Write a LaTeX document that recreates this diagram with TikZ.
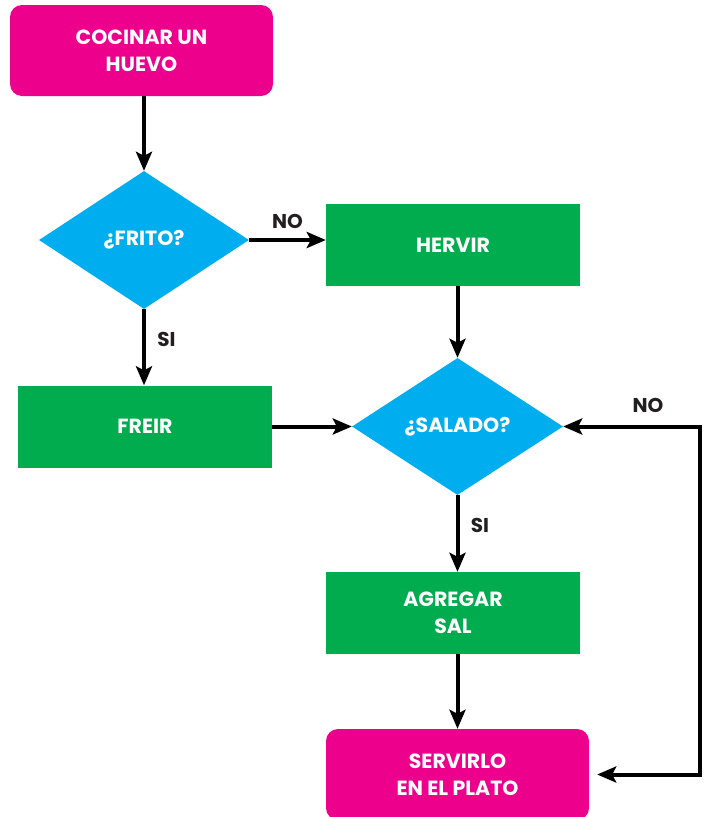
\documentclass[tikz,border=0pt]{standalone}
\usepackage{fontspec}
\setmainfont{Poppins}
\usetikzlibrary{shapes.geometric,arrows.meta}

\definecolor{fpink}{HTML}{EC008C}
\definecolor{fgreen}{HTML}{00AC4E}
\definecolor{fblue}{HTML}{00AEEF}
\definecolor{ftext}{HTML}{231F20}

\tikzset{
  txt/.style={font=\fontsize{20.5}{27}\selectfont\bfseries, text=white, align=center},
  endbox/.style={txt, fill=fpink, rounded corners=12pt, inner sep=0pt,
    minimum width=263pt, minimum height=91pt},
  actbox/.style={txt, fill=fgreen, inner sep=0pt,
    minimum width=254pt, minimum height=82pt},
  askbox/.style={txt, fill=fblue, diamond, inner sep=0pt, aspect=1.5},
  arr/.style={line width=4pt, draw=black, -{Stealth[length=19pt,width=16pt,inset=4pt]}},
  lbl/.style={font=\fontsize{20}{22}\selectfont\bfseries, text=ftext}
}

\begin{document}
\begin{tikzpicture}[x=1pt,y=-1pt]
  \useasboundingbox (0,0) rectangle (707,817);

  % boxes
  \node[endbox] (inicio) at (141.5,50.5) {COCINAR UN\\HUEVO};
  \node[askbox, minimum width=210pt, minimum height=138pt] (frito) at (144,240) {¿FRITO?};
  \node[actbox] (hervir) at (453,245) {HERVIR};
  \node[actbox] (freir) at (145,426.5) {FREIR};
  \node[askbox, minimum width=211pt, minimum height=137pt] (salado) at (457.5,426.5) {¿SALADO?};
  \node[actbox] (sal) at (453,613) {AGREGAR\\SAL};
  \node[endbox] (servir) at (457.5,774.5) {SERVIRLO\\EN EL PLATO};

  \coordinate (vuelta) at (700,426.5);
  \coordinate (salsal) at (sal.south -| salado.south);
  \coordinate (serentr) at (servir.north -| salado.south);

  % connectors
  \draw[arr] (inicio.south -| frito.north) -- (frito.north);
  \draw[arr] (frito.east) -- (frito.east -| hervir.west)
    node[lbl, midway, above=6pt] (no1) {NO};
  \draw[arr] (frito.south) -- (frito.south |- freir.north)
    node[lbl, pos=0.4, right=8pt] (si1) {SI};
  \draw[arr] (hervir.south -| salado.north) -- (salado.north);
  \draw[arr] (freir.east) -- (freir.east -| salado.west);
  \draw[arr] (salado.south) -- (salado.south |- sal.north)
    node[lbl, pos=0.4, right=8pt] (si2) {SI};
  \draw[arr] (salsal) -- (serentr);
  \draw[line width=4pt, {Stealth[length=19pt,width=16pt,inset=4pt]}-{Stealth[length=19pt,width=16pt,inset=4pt]},
    shorten >=8pt] (salado.east) -- (vuelta) |- (servir.east);
  \node[lbl] (no2) at (648,405) {NO};
\end{tikzpicture}
\end{document}
